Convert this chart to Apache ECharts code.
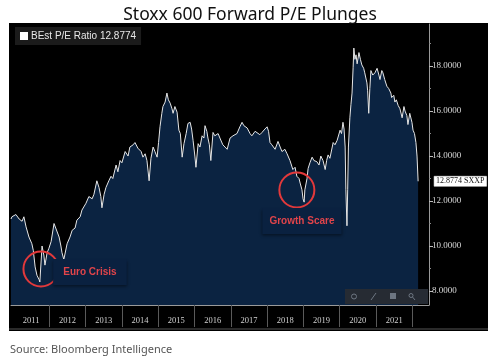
<!DOCTYPE html>
<html>
<head>
<meta charset="utf-8">
<script src="https://cdn.jsdelivr.net/npm/echarts@6/dist/echarts.min.js"></script>
<style>
html,body{margin:0;padding:0;background:#fff;}
#chart{width:500px;height:361px;}
</style>
</head>
<body>
<div id="chart"></div>
<script>
// ---- DATA (decimal years and forward P/E values) ----
const dates2011_2014 = [2010.945,2010.97,2011.00,2011.08,2011.17,2011.25,2011.30,2011.36,2011.44,2011.52,2011.56,2011.61,2011.66,2011.72,2011.74,2011.77,2011.80,2011.85,2011.88,2011.94,2011.99,
  2012.05,2012.13,2012.18,2012.27,2012.32,2012.35,2012.40,2012.49,2012.57,2012.63,2012.71,2012.76,2012.85,2012.90,
  2013.01,2013.09,2013.18,2013.23,2013.31,2013.37,2013.42,2013.45,2013.51,2013.56,2013.64,2013.70,2013.75,2013.84,2013.89,2013.95,
  2014.00,2014.09,2014.17,2014.22,2014.31,2014.36,2014.44,2014.53,2014.58,2014.64,2014.69,2014.75,2014.80,2014.86,2014.91,2014.97];
const pe2011_2014 = [11.2,11.3,11.24,11.4,11.2,11.1,11.3,10.85,10.4,10.1,9.8,9.07,8.7,8.5,8.4,9.2,10.0,9.6,9.15,9.7,9.9,
  10.2,11.0,11.0,10.4,10.0,9.7,9.4,10.1,10.4,10.7,10.8,11.15,11.3,11.6,
  11.9,12.2,12.1,12.3,12.9,12.6,12.2,11.7,12.3,12.6,12.9,13.1,13.0,13.6,13.3,13.8,
  13.7,14.2,14.0,14.4,14.5,14.6,14.35,14.2,13.95,14.1,13.8,12.9,13.9,14.4,14.2,13.95];

const dates2015_2018 = [2015.01,2015.05,2015.10,2015.13,2015.19,2015.24,2015.28,2015.33,2015.38,2015.41,2015.46,2015.52,2015.57,2015.61,2015.66,2015.71,2015.77,2015.82,2015.88,2015.92,2015.96,
  2016.01,2016.04,2016.10,2016.15,2016.21,2016.26,2016.29,2016.34,2016.37,2016.41,2016.45,2016.51,2016.56,2016.65,2016.70,2016.78,2016.84,2016.90,2016.98,
  2017.06,2017.17,2017.25,2017.31,2017.36,2017.45,2017.53,2017.58,2017.67,2017.72,2017.80,2017.86,2017.94,
  2018.00,2018.04,2018.08,2018.13,2018.22,2018.30,2018.36,2018.41,2018.49,2018.55,2018.63,2018.71,2018.77,2018.82,2018.88,2018.91,2018.96,2018.99];
const pe2015_2018 = [14.6,15.3,15.9,16.2,16.4,16.8,16.5,16.35,16.1,15.9,16.2,15.95,15.15,15.0,13.95,14.55,15.0,15.45,15.5,15.2,14.7,
  14.0,13.5,14.55,14.4,14.9,14.8,15.35,15.1,14.8,14.5,13.8,15.05,14.9,15.0,14.8,14.5,14.4,14.3,14.8,
  14.9,15.0,15.3,15.5,15.35,15.25,15.0,14.9,15.1,15.15,14.95,15.05,15.2,
  15.3,15.1,14.6,14.5,14.3,14.65,14.4,14.2,14.3,14.1,13.8,13.4,13.5,13.1,13.0,12.8,12.5,12.1];

const dates2019_2022 = [2019.02,2019.04,2019.10,2019.13,2019.18,2019.24,2019.29,2019.37,2019.43,2019.48,2019.54,2019.60,2019.64,2019.68,2019.73,2019.82,2019.87,2019.93,
  2020.01,2020.05,2020.09,2020.12,2020.15,2020.17,2020.20,2020.22,2020.24,2020.28,2020.31,2020.34,2020.37,2020.39,2020.42,2020.45,2020.48,2020.53,2020.57,2020.61,2020.66,2020.69,2020.75,2020.77,2020.80,2020.83,2020.86,2020.91,2020.97,
  2021.03,2021.08,2021.11,2021.16,2021.19,2021.24,2021.30,2021.35,2021.41,2021.43,2021.49,2021.52,2021.56,2021.61,2021.66,2021.72,2021.77,2021.80,2021.85,2021.88,2021.93,2021.96,2021.99,
  2022.02,2022.06,2022.10,2022.13,2022.16];
const pe2019_2022 = [11.95,12.5,13.0,13.45,13.7,13.95,13.8,13.75,13.6,14.0,13.8,13.4,13.8,14.05,13.9,14.6,14.5,14.7,
  15.15,15.0,15.5,15.2,14.4,12.5,10.9,12.5,14.4,15.7,16.3,16.8,17.95,18.8,18.3,18.5,18.1,18.6,18.3,18.05,17.9,17.7,17.25,16.9,15.9,17.0,17.8,17.6,17.7,
  17.9,17.6,17.4,17.8,17.7,17.4,17.1,17.0,16.8,16.6,16.7,16.4,16.5,16.25,16.1,15.7,16.2,16.0,15.8,15.4,15.9,15.95,15.5,
  15.15,15.0,14.6,14.0,12.8774];

const yearLabels = [2011,2012,2013,2014,2015,2016,2017,2018,2019,2020,2021];
const yearBoundaries = [2012,2013,2014,2015,2016,2017,2018,2019,2020,2021,2022];
const yMajorTicks = [8,10,12,14,16,18];
const yMinorTicks = [9,11,13,15,17,19];
const annotations = [
  {name:'Euro Crisis', circle:[2011.77, 8.98], text:[2013.12, 8.84]},
  {name:'Growth Scare', circle:[2018.82, 12.49], text:[2018.96, 11.11]}
];
const seriesName = 'BEst P/E Ratio 12.8774';
const ticker = 'SXXP';

// ---- BUILD ----
const allDates = dates2011_2014.concat(dates2015_2018, dates2019_2022);
const allPe = pe2011_2014.concat(pe2015_2018, pe2019_2022);
const seriesData = allDates.map((d, i) => [d, allPe[i]]);

const markData = [];
annotations.forEach(a => {
  markData.push({
    coord: a.circle, symbol: 'circle', symbolSize: 35,
    itemStyle: {color: 'rgba(0,0,0,0)', borderColor: '#e2393b', borderWidth: 2},
    label: {show: false}
  });
  markData.push({
    coord: a.text, symbol: 'rect', symbolSize: [a.name.length * 5.6 + 12, 26],
    itemStyle: {color: '#0a2140', shadowColor: 'rgba(0,0,0,0.45)', shadowBlur: 3, shadowOffsetY: 2},
    label: {show: true, position: 'inside', formatter: a.name, color: '#e0444a',
      fontFamily: 'Liberation Sans', fontWeight: 'bold', fontSize: 10}
  });
});

const chart = echarts.init(document.getElementById('chart'), null, {renderer: 'canvas'});
const gridLeft = 11, gridRight = 71, gridTop = 24, gridBottom = 56;
const iconColor = '#6d7682';

chart.setOption({
  backgroundColor: '#ffffff',
  animation: false,
  title: {
    text: 'Stoxx 600 Forward P/E Plunges',
    left: 'center', top: 1,
    textStyle: {fontFamily: 'Noto Sans', fontWeight: 'normal', fontSize: 17.5, color: '#111'}
  },
  legend: {
    data: [seriesName],
    left: 15, top: 27,
    padding: [4, 5, 4, 5],
    backgroundColor: '#1b1b1b',
    itemWidth: 8, itemHeight: 8, itemGap: 4,
    icon: 'rect',
    textStyle: {color: '#e8e8e8', fontFamily: 'Liberation Sans', fontSize: 10, padding: [0,0,0,-2]}
  },
  grid: {left: gridLeft, right: gridRight, top: gridTop, bottom: gridBottom},
  xAxis: {
    type: 'value',
    min: 2010.945, max: 2022.46,
    axisLine: {show: true, lineStyle: {color: '#9a9a9a', width: 1}},
    axisTick: {show: true, customValues: yearBoundaries, length: 22, lineStyle: {color: '#5a5a5a'}},
    axisLabel: {show: true, customValues: yearLabels.map(y => y + 0.5),
      formatter: v => String(Math.floor(v)), color: '#d0d0d0',
      fontFamily: 'Liberation Serif', fontSize: 8.5, margin: 11},
    splitLine: {show: false}
  },
  yAxis: [{
    type: 'value', position: 'right',
    min: 7.378, max: 19.87,
    axisLine: {show: true, lineStyle: {color: '#9a9a9a', width: 1}},
    axisTick: {show: true, customValues: yMajorTicks, length: 4, lineStyle: {color: '#bbbbbb'}},
    axisLabel: {show: true, customValues: yMajorTicks, formatter: v => v.toFixed(4),
      color: '#d8d8d8', fontFamily: 'Liberation Serif', fontSize: 9, margin: 3},
    splitLine: {show: false}
  }, {
    type: 'value', position: 'right',
    min: 7.378, max: 19.87,
    axisLine: {show: false},
    axisTick: {show: true, customValues: yMinorTicks, length: 2, lineStyle: {color: '#888'}},
    axisLabel: {show: false},
    splitLine: {show: false}
  }],
  graphic: [
    {type: 'rect', z: -100, shape: {x: 9, y: 23, width: 479, height: 308}, style: {fill: '#000'}},
    {type: 'line', z: -99, shape: {x1: 9, y1: 329, x2: 488, y2: 329}, style: {stroke: '#2a2a2a', lineWidth: 2}},
    {type: 'rect', z: 100, shape: {x: 345, y: 289, width: 83, height: 15}, style: {fill: '#262b33'}},
    {type: 'circle', z: 101, shape: {cx: 354, cy: 296.5, r: 2.5}, style: {fill: 'none', stroke: iconColor, lineWidth: 1}},
    {type: 'line', z: 101, shape: {x1: 371, y1: 300, x2: 376, y2: 293}, style: {stroke: iconColor, lineWidth: 1}},
    {type: 'rect', z: 101, shape: {x: 390, y: 293, width: 6, height: 6}, style: {fill: iconColor}},
    {type: 'circle', z: 101, shape: {cx: 411, cy: 295.5, r: 2}, style: {fill: 'none', stroke: iconColor, lineWidth: 1}},
    {type: 'line', z: 101, shape: {x1: 412.5, y1: 297, x2: 415, y2: 300}, style: {stroke: iconColor, lineWidth: 1}},
    {type: 'text', left: 10, top: 344,
      style: {text: 'Source: Bloomberg Intelligence', fill: '#555', fontFamily: 'Noto Sans', fontSize: 11}}
  ],
  series: [{
    name: seriesName,
    type: 'line',
    data: seriesData,
    showSymbol: false,
    symbol: 'none',
    lineStyle: {color: '#e6e6e6', width: 1},
    itemStyle: {color: '#ffffff'},
    areaStyle: {color: '#0b2341', opacity: 1, origin: 'start'},
    endLabel: {
      show: true,
      formatter: p => p.value[1].toFixed(4) + ' ' + ticker,
      offset: [8, 0],
      color: '#111', backgroundColor: '#ffffff',
      fontFamily: 'Liberation Serif', fontSize: 8,
      padding: [1, 2, 1, 2], borderColor: '#888', borderWidth: 0.5
    },
    markPoint: {silent: true, data: markData}
  }]
});
</script>
</body>
</html>
